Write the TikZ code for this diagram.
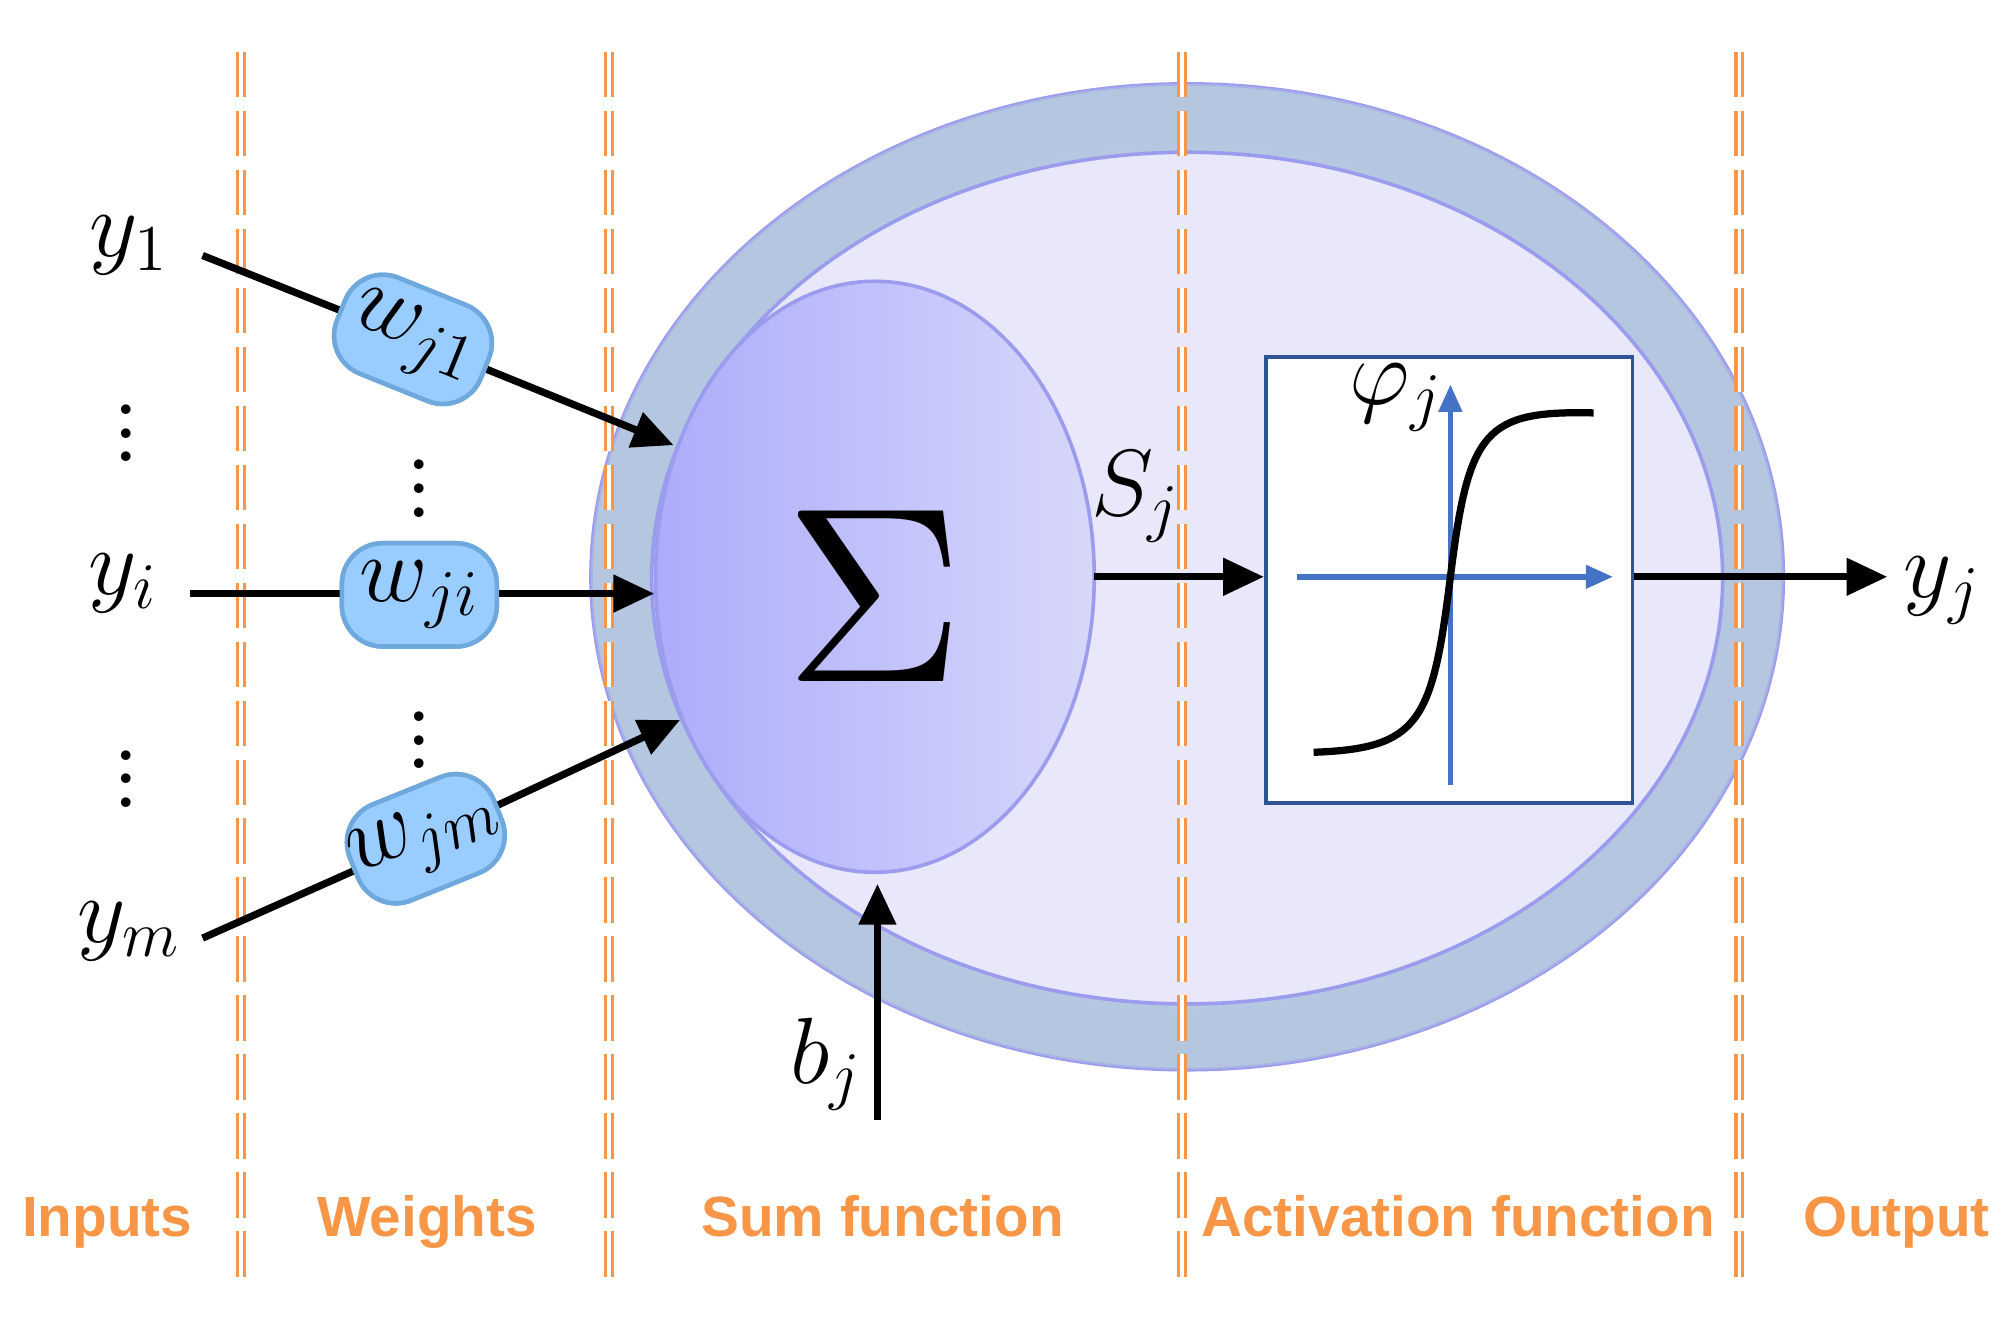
\documentclass[tikz,border=0pt]{standalone}
\usepackage{fontspec}
\newfontfamily\lab{Liberation Sans}
\usetikzlibrary{arrows.meta,shapes.geometric}
\definecolor{org}{HTML}{F79646}
\definecolor{ringc}{HTML}{B4C6E0}
\definecolor{innerc}{HTML}{E8E8FA}
\definecolor{edgec}{HTML}{9C9CEE}
\definecolor{sumc}{HTML}{CACAFA}
\definecolor{wfill}{HTML}{99CCFF}
\definecolor{wedge}{HTML}{6FA8DC}
\definecolor{axc}{HTML}{4472C4}
\definecolor{boxc}{HTML}{2F5597}
\tikzset{
 sep/.style={org,line width=0.7pt,dash pattern=on 10pt off 3pt,double=white,double distance=0.8pt},
 lab/.style={org,anchor=base,font=\lab\bfseries\fontsize{12.5}{12.5}\selectfont},
 wt/.style={draw=wedge,fill=wfill,line width=1pt,rounded corners=9pt,minimum width=1.2cm,minimum height=0.8cm,inner sep=0pt,font=\fontsize{20}{20}\selectfont},
 ml/.style={font=\fontsize{20}{20}\selectfont},
 arr/.style={line width=1.6pt,-{Triangle[length=9pt,width=8pt]}},
 ln/.style={line width=1.6pt},
}
\begin{document}
\begin{tikzpicture}[x=0.01cm,y=-0.01cm]
\useasboundingbox (0,0) rectangle (1560,1028);
% ring
\fill[ringc,draw=edgec,line width=0.8pt] (920,447) ellipse [x radius=462,y radius=382];
\shade[inner color=white!40!ringc,outer color=ringc,opacity=0.5] (920,447) ellipse [x radius=462,y radius=382];
\fill[innerc,draw=edgec,line width=0.8pt] (920,448) ellipse [x radius=415,y radius=330];
% sum
\shade[left color=sumc!85!blue,right color=sumc!75!white] (678,447) ellipse [x radius=170,y radius=229];
\draw[edgec,line width=0.8pt] (678,447) ellipse [x radius=170,y radius=229];
\node[scale=5.5] (sig) at (678,462) {$\Sigma$};
\coordinate (sumL) at (507,460);
\coordinate (sumT) at (522,345);
\coordinate (sumB) at (527,558);
\coordinate (sumR) at (848,447);
\coordinate (sumD) at (680,685);
% separators
\foreach \x in {187,472,916,1348} \draw[sep] (\x,40) -- (\x,1000);
% activation box
\node[draw=boxc,fill=white,line width=0.8pt,minimum width=2.84cm,minimum height=3.45cm,inner sep=0pt] (act) at (1123,449.5) {};
\draw[axc,line width=1.2pt,-{Triangle[length=6pt,width=5pt]}] (1005,447) -- (1250,447);
\draw[axc,line width=1.2pt,-{Triangle[length=6pt,width=5pt]}] (1124,608) -- (1124,298);
\draw[line width=1.6pt] (1018,583) .. controls (1100,580) and (1110,560) .. (1124,447) .. controls (1138,334) and (1150,318) .. (1235,320);
\node[ml] (phi) at (1082,308) {$\varphi_j$};
\node[ml] (sj) at (880,385) {$S_j$};
\draw[arr] (sumR) -- (sumR -| act.west);
\node[ml] (yj) at (1505,458) {$y_j$};
\draw[arr] (act.east |- sumR) -- (sumR -| yj.west);
\node[ml] (bj) at (640,825) {$b_j$};
\coordinate (bs) at (680,868);
\draw[arr] (bs) -- (sumD);
% inputs
\node[ml] (y1) at (100,190) {$y_1$};
\node[ml] (yi) at (95,452) {$y_i$};
\node[ml] (ym) at (100,722) {$y_m$};
\node[ml,scale=1.3] (d1) at (98,322) {$\vdots$};
\node[ml,scale=1.3] (d2) at (98,590) {$\vdots$};
\node[ml,scale=1.3] (d3) at (325,365) {$\vdots$};
\node[ml,scale=1.3] (d4) at (325,560) {$\vdots$};
\coordinate (s1) at (157,198);
\coordinate (si) at (147,460);
\coordinate (sm) at (157,727);
\node[wt,rotate=-22] (w1) at (320,263) {$w_{j1}$};
\node[wt] (wi) at (325,461) {$w_{ji}$};
\node[wt,rotate=22] (wm) at (330,650) {$w_{jm}$};
\draw[ln] (s1) -- (w1);
\draw[ln] (si) -- (si -| wi.west);
\draw[ln] (sm) -- (wm);
\draw[arr] (w1) -- (sumT);
\draw[arr] (wi.east |- si) -- (sumL);
\draw[arr] (wm) -- (sumB);
\node[wt,rotate=-22] at (320,263) {$w_{j1}$};
\node[wt] at (325,461) {$w_{ji}$};
\node[wt,rotate=22] at (330,650) {$w_{jm}$};
% labels
\node[lab] (l1) at (83,958) {Inputs};
\node[lab] (l2) at (331,958) {Weights};
\node[lab] (l3) at (684,958) {Sum function};
\node[lab] (l4) at (1130,958) {Activation function};
\node[lab] (l5) at (1470,958) {Output};
\end{tikzpicture}
\end{document}
